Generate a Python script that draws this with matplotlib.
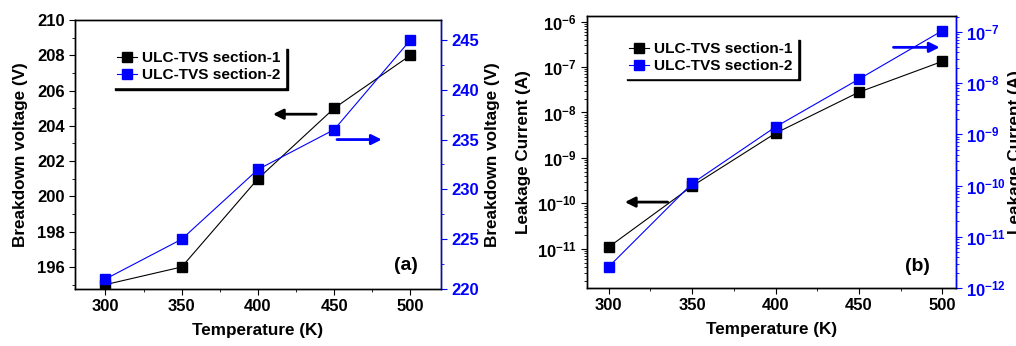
import math
import matplotlib
matplotlib.use('Agg')
import matplotlib.pyplot as plt
from matplotlib.ticker import MultipleLocator, LogLocator, FuncFormatter, NullFormatter

plt.rcParams['font.family'] = 'Liberation Sans'
plt.rcParams['font.weight'] = 'bold'
plt.rcParams['mathtext.fontset'] = 'custom'
plt.rcParams['mathtext.rm'] = 'Liberation Sans:bold'
plt.rcParams['mathtext.bf'] = 'Liberation Sans:bold'
plt.rcParams['axes.linewidth'] = 1.0

# data
temp = [300, 350, 400, 450, 500]
vbd_s1 = [195, 196, 201, 205, 208]
vbd_s2 = [221, 225, 232, 236, 245]
ileak_s1 = [1.1e-11, 2.4e-10, 3.5e-9, 2.8e-8, 1.33e-7]
ileak_s2 = [2.6e-12, 1.1e-10, 1.4e-9, 1.2e-8, 1.06e-7]
labels = ['ULC-TVS section-1', 'ULC-TVS section-2']

blue = '#0000ff'
fs_tick = 12
fs_lab = 12.3
W, H = 1016, 346

fig = plt.figure(figsize=(10.16, 3.46), dpi=100)


def style(ax):
    ax.tick_params(which='both', direction='out', labelsize=fs_tick)
    ax.tick_params(which='major', length=4)
    ax.tick_params(which='minor', length=2.5)
    for t in ax.get_xticklabels() + ax.get_yticklabels():
        t.set_fontweight('bold')


def sci(v, pos):
    e = int(round(math.log10(v)))
    return r'$\mathbf{10^{%d}}$' % e


def add_legend(ax, h, anchor):
    leg = ax.legend(h, labels, loc='upper left', bbox_to_anchor=anchor,
                    handlelength=1.3, handletextpad=0.35,
                    borderpad=0.3, labelspacing=0.2, fancybox=False,
                    shadow={'color': 'black', 'alpha': 1}, framealpha=1,
                    edgecolor='white', prop={'weight': 'bold', 'size': 11.1})
    return leg


# ---- panel (a)
ax1 = fig.add_axes([0.0738, 0.1647, 0.3602, 0.7775])
ax1b = ax1.twinx()
l1, = ax1.plot(temp, vbd_s1, '-s', color='black', lw=0.8, ms=7, mec='black')
l2, = ax1b.plot(temp, vbd_s2, '-s', color=blue, lw=0.8, ms=7, mec=blue)
ax1.set_xlim(280, 520)
ax1.set_ylim(194.75, 210)
ax1b.set_ylim(220, 247)
ax1.xaxis.set_major_locator(MultipleLocator(50))
ax1.xaxis.set_minor_locator(MultipleLocator(25))
ax1.yaxis.set_major_locator(MultipleLocator(2))
ax1.yaxis.set_minor_locator(MultipleLocator(1))
ax1b.yaxis.set_major_locator(MultipleLocator(5))
ax1b.yaxis.set_minor_locator(MultipleLocator(2.5))
style(ax1)
style(ax1b)
ax1b.tick_params(which='both', colors=blue)
ax1b.spines['right'].set_color(blue)
ax1.set_xlabel('Temperature (K)', fontsize=fs_lab, fontweight='bold', labelpad=6)
ax1.set_ylabel('Breakdown voltage (V)', fontsize=fs_lab, fontweight='bold', labelpad=6)
ax1b.set_ylabel('Breakdown voltage (V)', fontsize=fs_lab, fontweight='bold', labelpad=4)
fig.text(406 / W, 1 - 265.7 / H, '(a)', fontsize=14, fontweight='bold',
         ha='center', va='center')
ax1.annotate('', xy=(408, 204.66), xytext=(440, 204.66),
             arrowprops=dict(arrowstyle='-|>', color='black', lw=2, mutation_scale=15))
ax1b.annotate('', xy=(483, 235.0), xytext=(450, 235.0),
              arrowprops=dict(arrowstyle='-|>', color=blue, lw=2, mutation_scale=15))
add_legend(ax1b, [l1, l2], (0.08, 0.93))

# ---- panel (b)
ax2 = fig.add_axes([0.5778, 0.1676, 0.3629, 0.786])
ax2b = ax2.twinx()
m1, = ax2.plot(temp, ileak_s1, '-s', color='black', lw=0.8, ms=7, mec='black')
m2, = ax2b.plot(temp, ileak_s2, '-s', color=blue, lw=0.8, ms=7, mec=blue)
ax2.set_yscale('log')
ax2b.set_yscale('log')
ax2.set_xlim(287, 508)
ax2.set_ylim(10 ** -11.86, 10 ** -5.88)
ax2b.set_ylim(1e-12, 10 ** -6.69)
ax2.xaxis.set_major_locator(MultipleLocator(50))
ax2.xaxis.set_minor_locator(MultipleLocator(25))
for a in (ax2, ax2b):
    a.yaxis.set_major_locator(LogLocator(base=10, numticks=20))
    a.yaxis.set_minor_locator(LogLocator(base=10, subs=range(2, 10), numticks=20))
    a.yaxis.set_major_formatter(FuncFormatter(sci))
    a.yaxis.set_minor_formatter(NullFormatter())
style(ax2)
style(ax2b)
ax2b.tick_params(which='both', colors=blue)
ax2b.spines['right'].set_color(blue)
ax2.set_xlabel('Temperature (K)', fontsize=fs_lab, fontweight='bold', labelpad=6)
ax2.set_ylabel('Leakage Current (A)', fontsize=fs_lab, fontweight='bold', labelpad=4)
ax2b.set_ylabel('Leakage Current (A)', fontsize=fs_lab, fontweight='bold', labelpad=1)
fig.text(917 / W, 1 - 266.7 / H, '(b)', fontsize=14, fontweight='bold',
         ha='center', va='center')
ax2.annotate('', xy=(308, 1.07e-10), xytext=(337, 1.07e-10),
             arrowprops=dict(arrowstyle='-|>', color='black', lw=2, mutation_scale=15))
ax2b.annotate('', xy=(500, 5e-8), xytext=(469, 5e-8),
              arrowprops=dict(arrowstyle='-|>', color=blue, lw=2, mutation_scale=15))
add_legend(ax2b, [m1, m2], (0.08, 0.95))

fig.savefig('out.png', dpi=100)
